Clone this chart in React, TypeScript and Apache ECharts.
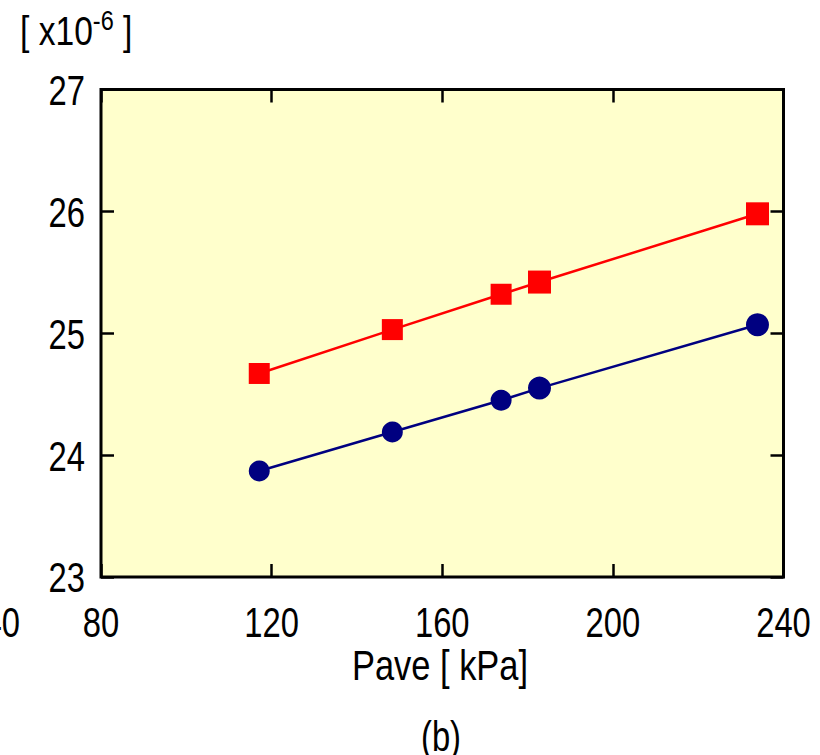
import React, { useEffect, useRef } from "react";
import * as echarts from "echarts";

const xTicks = [80, 120, 160, 200, 240];
const yTicks = [23, 24, 25, 26, 27];
const paveKPa = [117.1, 148.3, 173.8, 182.8, 233.9];
const redSquares = [24.67, 25.03, 25.32, 25.42, 25.98];
const blueCircles = [23.87, 24.19, 24.45, 24.55, 25.07];
const markerSizes = [21, 21, 21, 23, 23];

const FONT = "'Liberation Sans', Arial, sans-serif";
const NARROW = 0.78;

export default function App() {
  const ref = useRef<HTMLDivElement>(null);
  useEffect(() => {
    if (!ref.current) return;
    const chart = echarts.init(ref.current, undefined, { renderer: "svg" });
    const mk = (vals: number[]) =>
      vals.map((v, i) => ({ value: [paveKPa[i], v], symbolSize: markerSizes[i] }));
    const axisCommon = {
      min: xTicks[0],
      max: xTicks[xTicks.length - 1],
      interval: 40,
    };
    const yCommon = {
      min: yTicks[0],
      max: yTicks[yTicks.length - 1],
      interval: 1,
    };
    const tick = { show: true, inside: true, length: 13, lineStyle: { color: "#000", width: 2.5 } };
    chart.setOption({
      animation: false,
      backgroundColor: "#ffffff",
      grid: {
        left: 101,
        top: 89.5,
        width: 682.5,
        height: 487.5,
        show: true,
        backgroundColor: "#ffffcc",
        borderColor: "#000000",
        borderWidth: 3,
        containLabel: false,
      },
      xAxis: [
        { type: "value", ...axisCommon, position: "bottom", axisLine: { show: false }, axisTick: tick, splitLine: { show: false }, axisLabel: { show: false } },
        { type: "value", ...axisCommon, position: "top", axisLine: { show: false }, axisTick: tick, splitLine: { show: false }, axisLabel: { show: false } },
      ],
      yAxis: [
        { type: "value", ...yCommon, position: "left", axisLine: { show: false }, axisTick: tick, splitLine: { show: false }, axisLabel: { show: false } },
        { type: "value", ...yCommon, position: "right", axisLine: { show: false }, axisTick: tick, splitLine: { show: false }, axisLabel: { show: false } },
      ],
      series: [
        {
          type: "line",
          name: "red",
          data: mk(redSquares),
          symbol: "rect",
          lineStyle: { color: "#ff0000", width: 2.5 },
          itemStyle: { color: "#ff0000" },
          z: 3,
        },
        {
          type: "line",
          name: "blue",
          data: mk(blueCircles),
          symbol: "circle",
          lineStyle: { color: "#000080", width: 2.5 },
          itemStyle: { color: "#000080" },
          z: 3,
        },
      ],
    });

    const txt = (text: string, x: number, y: number, align: string, size = 42, sx = NARROW) => ({
      type: "text",
      x,
      y,
      scaleX: sx,
      style: {
        text,
        fontFamily: FONT,
        fontSize: size,
        fill: "#000",
        align,
        verticalAlign: "middle",
      },
    });

    const graphics: any[] = [];
    xTicks.forEach((v) => {
      const px = chart.convertToPixel({ xAxisIndex: 0 }, v) as number;
      graphics.push(txt(String(v), px, 623, "center"));
    });
    yTicks.forEach((v) => {
      const py = chart.convertToPixel({ yAxisIndex: 0 }, v) as number;
      graphics.push(txt(String(v), 85, py + 1, "right"));
    });
    graphics.push(txt("40", 20, 623, "right"));
    graphics.push(txt("Pave [ kPa]", 440, 665, "center", 42, 0.82));
    graphics.push(txt("(b)", 441, 737, "center"));
    graphics.push({
      type: "text",
      x: 20,
      y: 6,
      scaleX: 0.84,
      style: {
        text: "{n|[ x10}{sup|-6}{n| ]}",
        fill: "#000",
        rich: {
          n: { fontFamily: FONT, fontSize: 40, fill: "#000", lineHeight: 50 },
          sup: { fontFamily: FONT, fontSize: 28, fill: "#000", verticalAlign: "top", lineHeight: 32 },
        },
      },
    });
    chart.setOption({ graphic: graphics });
    return () => chart.dispose();
  }, []);
  return (
    <div
      ref={ref}
      style={{ position: "fixed", left: 0, top: 0, width: 820, height: 755 }}
    />
  );
}
